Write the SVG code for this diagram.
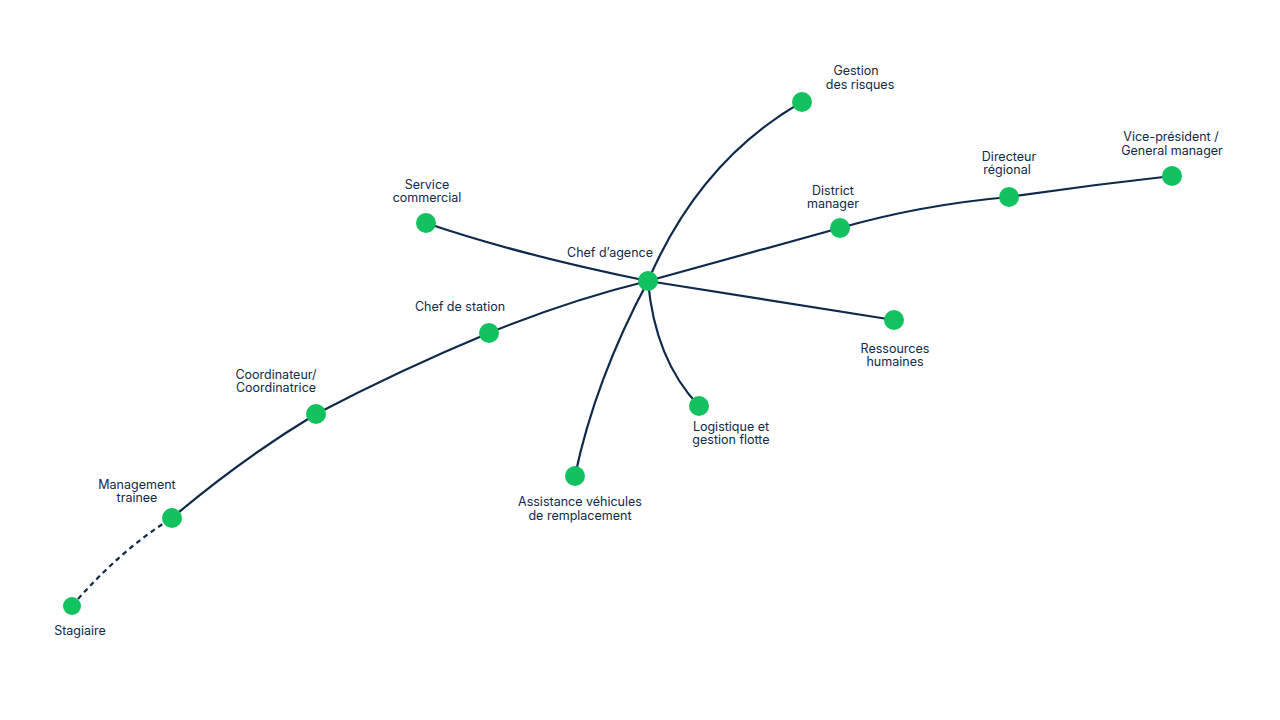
<svg xmlns="http://www.w3.org/2000/svg" width="1280" height="720" viewBox="0 0 1280 720">
<style>
.e{fill:none;stroke:#0d2a4a;stroke-width:2.2}
.d{stroke-dasharray:5 4}
.n{fill:#12c25f}
text{font-family:Inter,"Liberation Sans",sans-serif;font-size:12.5px;fill:#0d2a4a;text-anchor:middle}
</style>
<rect width="1280" height="720" fill="#fff"/>
<g id="connectors">
<path class="e d" d="M72,606 Q120,550 172,518"/>
<path class="e" d="M172,518 Q240,460 316,414"/>
<path class="e" d="M316,414 Q400,370 489,333"/>
<path class="e" d="M489,333 Q570,300 648,281"/>
<path class="e" d="M648,281 L840,228"/>
<path class="e" d="M840,228 Q920,205 1009,197"/>
<path class="e" d="M1009,197 Q1090,185 1172,176"/>
<path class="e" d="M648,281 Q520,255 426,223"/>
<path class="e" d="M648,281 Q700,160 802,102"/>
<path class="e" d="M648,281 L894,320"/>
<path class="e" d="M648,281 Q655,360 699,406"/>
<path class="e" d="M648,281 Q595,380 575,476"/>
</g>
<g id="stagiaire"><circle class="n" cx="72" cy="606" r="9"/><text x="80" y="635">Stagiaire</text></g>
<g id="management"><circle class="n" cx="172" cy="518" r="10"/><text x="137" y="489">Management</text><text x="137" y="502">trainee</text></g>
<g id="coordinateur"><circle class="n" cx="316" cy="414" r="10"/><text x="276" y="379">Coordinateur/</text><text x="276" y="392">Coordinatrice</text></g>
<g id="chefstation"><circle class="n" cx="489" cy="333" r="10"/><text x="460" y="311">Chef de station</text></g>
<g id="chefagence"><circle class="n" cx="648" cy="281" r="10"/><text x="610" y="257">Chef d’agence</text></g>
<g id="service"><circle class="n" cx="426" cy="223" r="10"/><text x="427" y="189">Service</text><text x="427" y="202">commercial</text></g>
<g id="gestion"><circle class="n" cx="802" cy="102" r="10"/><text x="856" y="75">Gestion</text><text x="860" y="89">des risques</text></g>
<g id="district"><circle class="n" cx="840" cy="228" r="10"/><text x="833" y="195">District</text><text x="833" y="208">manager</text></g>
<g id="directeur"><circle class="n" cx="1009" cy="197" r="10"/><text x="1009" y="161">Directeur</text><text x="1007" y="174">régional</text></g>
<g id="vp"><circle class="n" cx="1172" cy="176" r="10"/><text x="1171" y="141">Vice-président /</text><text x="1172" y="155">General manager</text></g>
<g id="rh"><circle class="n" cx="894" cy="320" r="10"/><text x="895" y="353">Ressources</text><text x="895" y="366">humaines</text></g>
<g id="logistique"><circle class="n" cx="699" cy="406" r="10"/><text x="731" y="431">Logistique et</text><text x="731" y="444">gestion flotte</text></g>
<g id="assistance"><circle class="n" cx="575" cy="476" r="10"/><text x="580" y="506">Assistance véhicules</text><text x="580" y="520">de remplacement</text></g>
</svg>
